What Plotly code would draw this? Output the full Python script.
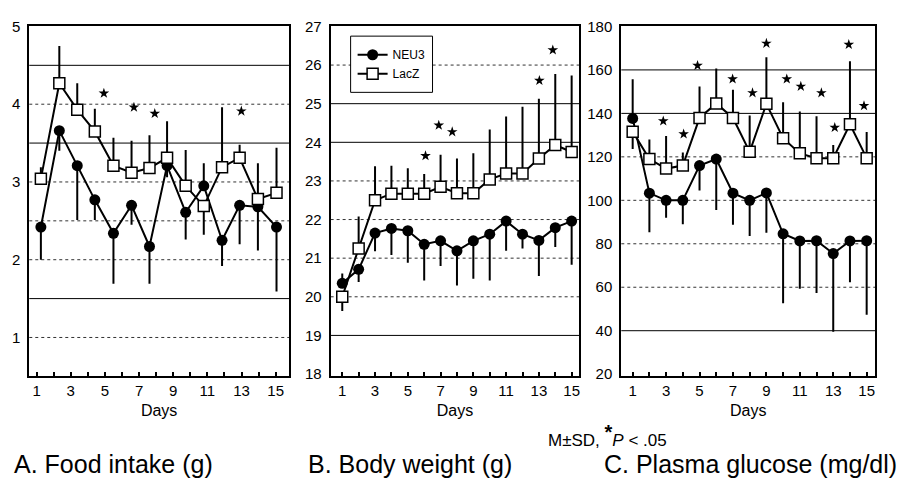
import plotly.graph_objects as go

# ---------------- data ----------------
# Panel A: Food intake (g) - 14 measurements, x positions read against the day ticks
days_a = [1.25, 2.33, 3.38, 4.41, 5.50, 6.56, 7.61, 8.64, 9.73, 10.79, 11.86, 12.89, 13.96, 15.05]
neu3_a = [2.42, 3.66, 3.21, 2.77, 2.34, 2.70, 2.17, 3.21, 2.61, 2.95, 2.25, 2.70, 2.68, 2.42]
neu3_a_plus = [0, 0, 0, 0, 0, 0, 0, 0, 0, 0.29, 0, 0, 0, 0]
neu3_a_minus = [0.42, 0.26, 0.70, 0.26, 0.65, 0.25, 0.48, 0.15, 0.35, 0, 0.33, 0.50, 0.56, 0.83]
lacz_a = [3.04, 4.27, 3.93, 3.65, 3.21, 3.12, 3.18, 3.31, 2.95, 2.69, 3.19, 3.31, 2.78, 2.86]
lacz_a_plus = [0.15, 0.48, 0.34, 0.29, 0.36, 0.41, 0.42, 0.47, 0.46, 0, 0.77, 0.17, 0.46, 0.58]
lacz_a_minus = [0, 0, 0, 0, 0, 0, 0, 0, 0, 0.37, 0, 0, 0, 0]
star_a_x = [4.94, 6.70, 7.92, 12.99]
star_a_y = [4.14, 3.96, 3.88, 3.91]

# Panel B: Body weight (g)
days_b = list(range(1, 16))
neu3_b = [20.35, 20.71, 21.65, 21.77, 21.71, 21.36, 21.45, 21.19, 21.45, 21.62, 21.96, 21.62, 21.46, 21.79, 21.96]
neu3_b_plus = [0.25, 0, 0, 0, 0, 0, 0, 0, 0, 0, 0, 0, 0, 0, 0]
neu3_b_minus = [0, 0.33, 0.47, 0.69, 0.83, 0.94, 0.65, 0.90, 0.98, 1.20, 0.77, 0.37, 0.92, 0.50, 1.13]
lacz_b = [20.00, 21.25, 22.50, 22.67, 22.67, 22.67, 22.85, 22.68, 22.68, 23.04, 23.19, 23.19, 23.58, 23.93, 23.75]
lacz_b_plus = [0, 0.83, 0.88, 0.72, 0.66, 0.51, 0.83, 0.90, 1.04, 1.29, 1.48, 1.73, 1.55, 1.84, 1.98]
lacz_b_minus = [0.37, 0, 0, 0, 0, 0, 0, 0, 0, 0, 0, 0, 0, 0, 0]
star_b_x = [6.08, 6.89, 7.71, 13.03, 13.85]
star_b_y = [23.65, 24.44, 24.27, 25.60, 26.39]

# Panel C: Plasma glucose (mg/dl)
days_c = list(range(1, 16))
neu3_c = [137.7, 103.3, 100.0, 100.0, 116.0, 119.0, 103.3, 100.0, 103.4, 84.6, 81.3, 81.4, 75.5, 81.3, 81.4]
neu3_c_plus = [18, 0, 0, 0, 0, 0, 0, 0, 0, 0, 0, 0, 0, 0, 0]
neu3_c_minus = [0, 18, 8, 11, 11.5, 23.5, 14.5, 16.4, 18.3, 32, 22, 24, 36, 19, 34]
lacz_c = [131.6, 119.0, 114.6, 116.0, 137.9, 144.6, 137.9, 122.3, 144.4, 128.6, 121.6, 119.4, 119.4, 135.0, 119.4]
lacz_c_plus = [0, 9, 15, 6, 14.5, 16, 13, 16.7, 21.4, 16.5, 19.3, 19.3, 6, 29, 12]
lacz_c_minus = [8, 0, 0, 0, 0, 0, 0, 0, 0, 0, 0, 0, 0, 0, 0]
star_c_x = [2.83, 4.05, 4.88, 6.98, 8.17, 9.00, 10.22, 11.06, 12.29, 13.09, 13.93, 14.84]
star_c_y = [136.5, 130.5, 162.0, 155.8, 149.4, 172.2, 155.8, 152.4, 149.4, 133.5, 171.7, 143.5]

# gridlines (solid / dotted) per panel
grid_a_solid = [1.5, 3.5, 4.5]
grid_a_dot = [1, 2, 2.5, 3, 4]
grid_b_solid = [19, 24, 25]
grid_b_dot = [20, 21, 22, 23, 26]
grid_c_solid = [40, 140, 160]
grid_c_dot = [60, 80, 100, 120]

FONT = "Liberation Sans, Arial, Helvetica, sans-serif"

fig = go.Figure()

panels = [
    ("x", "y", days_a, neu3_a, neu3_a_plus, neu3_a_minus, lacz_a, lacz_a_plus, lacz_a_minus, star_a_x, star_a_y, False),
    ("x2", "y2", days_b, neu3_b, neu3_b_plus, neu3_b_minus, lacz_b, lacz_b_plus, lacz_b_minus, star_b_x, star_b_y, True),
    ("x3", "y3", days_c, neu3_c, neu3_c_plus, neu3_c_minus, lacz_c, lacz_c_plus, lacz_c_minus, star_c_x, star_c_y, False),
]

for xa, ya, dx, n, npl, nmi, l, lpl, lmi, sx, sy, show in panels:
    fig.add_trace(go.Scatter(
        x=dx, y=n, xaxis=xa, yaxis=ya, mode="lines+markers", name="NEU3",
        showlegend=show, legendrank=1,
        line=dict(color="black", width=2),
        marker=dict(symbol="circle", size=11, color="black"),
        error_y=dict(type="data", symmetric=False, array=npl, arrayminus=nmi,
                     color="black", thickness=2, width=0),
    ))
    fig.add_trace(go.Scatter(
        x=dx, y=l, xaxis=xa, yaxis=ya, mode="lines+markers", name="LacZ",
        showlegend=show, legendrank=2,
        line=dict(color="black", width=2),
        marker=dict(symbol="square", size=11, color="white", line=dict(color="black", width=1.5)),
        error_y=dict(type="data", symmetric=False, array=lpl, arrayminus=lmi,
                     color="black", thickness=2, width=0),
    ))
    fig.add_trace(go.Scatter(
        x=sx, y=sy, xaxis=xa, yaxis=ya, mode="markers", showlegend=False,
        marker=dict(symbol="star", size=8, color="black"),
        hoverinfo="skip",
    ))

W, H = 899, 488

shapes = []
for yref, solid, dot in [("y", grid_a_solid, grid_a_dot), ("y2", grid_b_solid, grid_b_dot), ("y3", grid_c_solid, grid_c_dot)]:
    xref = yref.replace("y", "x") + " domain"
    for v in solid:
        shapes.append(dict(type="line", xref=xref, yref=yref, x0=0, x1=1, y0=v, y1=v,
                           line=dict(color="black", width=1), layer="below"))
    for v in dot:
        shapes.append(dict(type="line", xref=xref, yref=yref, x0=0, x1=1, y0=v, y1=v,
                           line=dict(color="#333", width=1, dash="dot"), layer="below"))
# opaque legend frame in panel B
shapes.append(dict(type="rect", xref="paper", yref="paper",
                   x0=351 / W, x1=433 / W, y0=1 - 86 / H, y1=1 - 28 / H,
                   fillcolor="white", line=dict(color="black", width=1), layer="above"))

def dom(a, b, total):
    return [a / total, b / total]

ydom = [1 - 379 / H, 1 - 18 / H]

xcommon = dict(showline=True, mirror=True, linecolor="black", linewidth=2,
               showgrid=False, zeroline=False, tickmode="linear", tick0=1, dtick=2,
               ticks="inside", ticklen=4, tickwidth=1.5, tickcolor="black",
               minor=dict(ticks="inside", ticklen=4, tickwidth=1.5, tickcolor="black",
                          tick0=0, dtick=1, showgrid=False),
               tickfont=dict(size=15, color="black"),
               title=dict(text="Days", font=dict(size=16, color="black"), standoff=6))
ycommon = dict(showline=True, mirror=True, linecolor="black", linewidth=2,
               showgrid=False, zeroline=False, ticks="", tickfont=dict(size=15, color="black"),
               ticklabelstandoff=4)

fig.update_layout(
    width=W, height=H,
    margin=dict(l=0, r=0, t=0, b=0),
    paper_bgcolor="white", plot_bgcolor="white",
    font=dict(family=FONT, color="black"),
    xaxis=dict(domain=dom(29.3, 289.3, W), range=[0.57, 15.78], anchor="y", **xcommon),
    xaxis2=dict(domain=dom(331, 580, W), range=[0.29, 15.47], anchor="y2", **xcommon),
    xaxis3=dict(domain=dom(622, 876, W), range=[0.32, 15.5], anchor="y3", **xcommon),
    yaxis=dict(domain=ydom, range=[0.5, 5], anchor="x", tickvals=[1, 2, 3, 4, 5], **ycommon),
    yaxis2=dict(domain=ydom, range=[17.94, 27], anchor="x2", tickvals=list(range(18, 28)), **ycommon),
    yaxis3=dict(domain=ydom, range=[19, 180], anchor="x3", tickvals=list(range(20, 181, 20)), **ycommon),
    shapes=shapes,
    showlegend=True,
    legend=dict(x=353 / W, y=1 - 57 / H, xanchor="left", yanchor="middle",
                bgcolor="rgba(0,0,0,0)", borderwidth=0,
                font=dict(size=12, color="black"), tracegroupgap=0),
    annotations=[
        dict(text="A. Food intake (g)", x=12 / W, y=1 - 469 / H, xref="paper", yref="paper",
             xanchor="left", yanchor="middle", showarrow=False, font=dict(size=25)),
        dict(text="B. Body weight (g)", x=306 / W, y=1 - 469 / H, xref="paper", yref="paper",
             xanchor="left", yanchor="middle", showarrow=False, font=dict(size=25)),
        dict(text="C. Plasma glucose (mg/dl)", x=603 / W, y=1 - 469 / H, xref="paper", yref="paper",
             xanchor="left", yanchor="middle", showarrow=False, font=dict(size=25)),
        dict(text="M±SD, <sup><span style='font-size:20px'><b>*</b></span></sup><i>P</i> &lt; .05",
             x=547 / W, y=1 - 440 / H,
             xref="paper", yref="paper", xanchor="left", yanchor="middle", showarrow=False,
             font=dict(size=17)),
    ],
)

fig.write_html("out.html")
